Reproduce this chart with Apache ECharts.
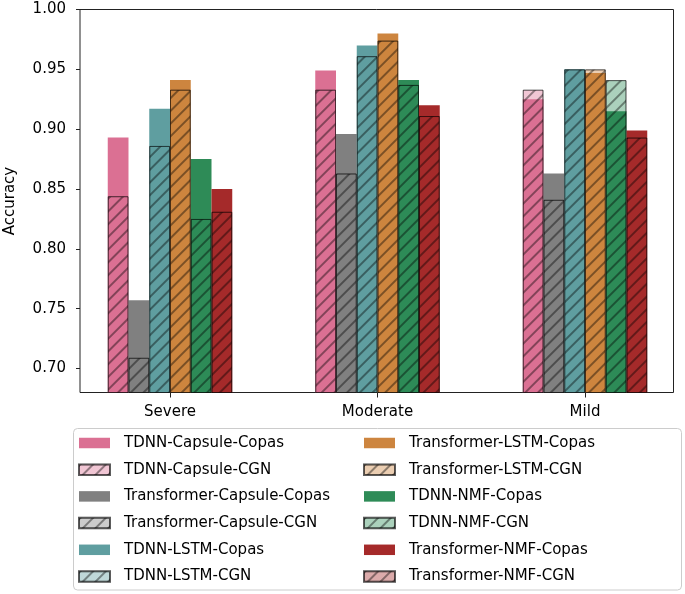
<!DOCTYPE html>
<html>
<head>
<meta charset="utf-8">
<script src="https://cdn.jsdelivr.net/npm/echarts@6/dist/echarts.min.js"></script>
<style>html,body{margin:0;padding:0;background:#fff;}#c{width:685px;height:594px;}</style>
</head>
<body>
<div id="c"></div>
<script>
const categories = ['Severe', 'Moderate', 'Mild'];
const models = ['TDNN-Capsule', 'Transformer-Capsule', 'TDNN-LSTM', 'Transformer-LSTM', 'TDNN-NMF', 'Transformer-NMF'];
const modelColors = ['#DB7093', '#808080', '#5F9EA0', '#CD853F', '#2E8B57', '#A52A2A'];

const tdnnCapsuleCopas = [0.893, 0.949, 0.925];
const tdnnCapsuleCGN = [0.844, 0.933, 0.933];
const transformerCapsuleCopas = [0.757, 0.896, 0.863];
const transformerCapsuleCGN = [0.709, 0.863, 0.841];
const tdnnLstmCopas = [0.917, 0.970, 0.950];
const tdnnLstmCGN = [0.886, 0.961, 0.950];
const transformerLstmCopas = [0.941, 0.980, 0.947];
const transformerLstmCGN = [0.933, 0.974, 0.950];
const tdnnNmfCopas = [0.875, 0.941, 0.915];
const tdnnNmfCGN = [0.825, 0.937, 0.941];
const transformerNmfCopas = [0.850, 0.920, 0.899];
const transformerNmfCGN = [0.831, 0.911, 0.893];

const yTicks = [0.70, 0.75, 0.80, 0.85, 0.90, 0.95, 1.00];

const copasValues = [tdnnCapsuleCopas, transformerCapsuleCopas, tdnnLstmCopas, transformerLstmCopas, tdnnNmfCopas, transformerNmfCopas];
const cgnValues = [tdnnCapsuleCGN, transformerCapsuleCGN, tdnnLstmCGN, transformerLstmCGN, tdnnNmfCGN, transformerNmfCGN];

function alpha(hex, a) {
  const r = parseInt(hex.slice(1, 3), 16), g = parseInt(hex.slice(3, 5), 16), b = parseInt(hex.slice(5, 7), 16);
  return 'rgba(' + r + ',' + g + ',' + b + ',' + a + ')';
}

const FONT = 'DejaVu Sans';
const hatch = {
  symbol: 'rect', symbolSize: 1,
  dashArrayX: [1, 0], dashArrayY: [1.2, 6.3],
  rotation: -Math.PI / 4,
  color: 'rgba(0,0,0,0.4)'
};
const noDecal = {
  symbol: 'rect', symbolSize: 1,
  dashArrayX: [1, 0], dashArrayY: [1, 6],
  rotation: 0,
  color: 'rgba(0,0,0,0)'
};

const series = [];
models.forEach((m, i) => {
  series.push({
    name: m + '-Copas', type: 'bar', xAxisIndex: 0, yAxisIndex: 0,
    data: copasValues[i], barWidth: 20.75, barGap: 0, z: 2,
    itemStyle: { color: modelColors[i], decal: noDecal }
  });
});
models.forEach((m, i) => {
  series.push({
    name: m + '-CGN', type: 'bar', xAxisIndex: 1, yAxisIndex: 0,
    data: cgnValues[i], barWidth: 20.75, barGap: 0, z: 3,
    itemStyle: { color: alpha(modelColors[i], 0.4), borderColor: 'rgba(0,0,0,0.4)', borderWidth: 1, decal: hatch }
  });
});

const leftNames = [], rightNames = [];
models.forEach((m, i) => {
  const arr = i < 3 ? leftNames : rightNames;
  arr.push(m + '-Copas', m + '-CGN');
});

const legendCommon = {
  orient: 'vertical', top: 435, padding: 0,
  itemWidth: 31, itemHeight: 10.5, itemGap: 10.7, icon: 'rect',
  textStyle: { fontFamily: FONT, fontSize: 15, color: '#000', padding: [0, 0, 0, 9], lineHeight: 16 }
};

const option = {
  animation: false,
  aria: { decal: { show: true } },
  grid: [
    { left: 66.25, width: 622.5, top: 9.5, height: 383, outerBoundsMode: 'none', containLabel: false },
    { left: 80, width: 593.5, top: 9.5, height: 383, outerBoundsMode: 'none', containLabel: false,
      show: true, borderColor: '#222', borderWidth: 1, backgroundColor: 'transparent' }
  ],
  xAxis: [
    { type: 'category', gridIndex: 0, data: categories,
      axisLine: { show: false },
      axisTick: { show: true, alignWithLabel: true, length: 5, lineStyle: { color: '#222' } },
      axisLabel: { fontFamily: FONT, fontSize: 15, color: '#000', margin: 12 } },
    { type: 'category', gridIndex: 0, data: categories, show: false },
    { type: 'value', gridIndex: 1, min: 0, max: 1, show: false }
  ],
  yAxis: [
    { type: 'value', gridIndex: 0, min: 0.68, max: 1.0, show: false },
    { type: 'value', gridIndex: 1, min: 0.68, max: 1.0,
      name: 'Accuracy', nameLocation: 'middle', nameGap: 62,
      nameTextStyle: { fontFamily: FONT, fontSize: 15, color: '#000' },
      axisLine: { show: false },
      splitLine: { show: false },
      axisTick: { show: true, length: 4, customValues: yTicks, lineStyle: { color: '#222' } },
      axisLabel: { fontFamily: FONT, fontSize: 15, color: '#000', margin: 14, customValues: yTicks,
        formatter: v => v.toFixed(2) } }
  ],
  legend: [
    Object.assign({ left: 78, data: leftNames }, legendCommon),
    Object.assign({ left: 363, data: rightNames }, legendCommon)
  ],
  graphic: [
    { type: 'rect', shape: { x: 73.5, y: 428.5, width: 608, height: 161.5, r: 4 },
      style: { fill: '#fff', stroke: '#cccccc', lineWidth: 1 }, z: -1 }
  ],
  series: series
};

const chart = echarts.init(document.getElementById('c'), null, { renderer: 'canvas' });
chart.setOption(option);
</script>
</body>
</html>
